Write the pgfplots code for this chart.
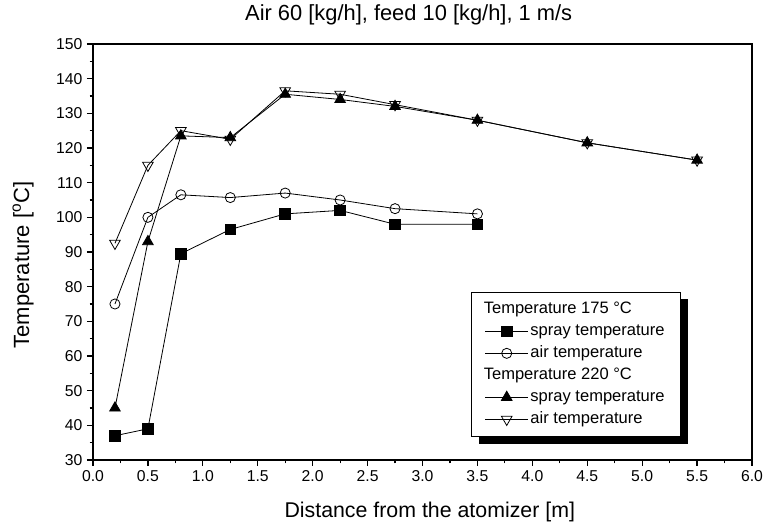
\documentclass[border=0pt]{standalone}
\usepackage{pgfplots}
\pgfplotsset{compat=1.18}
\usepackage{fontspec}
\setmainfont{Liberation Sans}
\usetikzlibrary{backgrounds}
\begin{document}
\begin{tikzpicture}
\useasboundingbox (-69.75pt,-51pt) rectangle (503.25pt,345pt);
\begin{axis}[
  scale only axis,
  width=494.25pt, height=312pt,
  xmin=0, xmax=6, ymin=30, ymax=150,
  xtick={0,0.5,...,6}, ytick={30,40,...,150},
  minor x tick num=1, minor y tick num=1,
  xticklabel style={/pgf/number format/.cd,fixed,fixed zerofill,precision=1},
  /pgf/number format/assume math mode=true,
  tick align=outside, xtick pos=bottom, ytick pos=left,
  major tick length=4.5pt, minor tick length=2.5pt,
  tick style={black, line width=0.9pt},
  axis line style={line width=1.2pt},
  ticklabel style={font=\fontsize{11.8}{13}\selectfont},
  title={Air 60 [kg/h], feed 10 [kg/h], 1 m/s},
  title style={font=\fontsize{16.4}{18}\selectfont, at={(axis description cs:0.479,1.0697)}, anchor=center, yshift=-6pt},
  xlabel={Distance from the atomizer [m]},
  xlabel style={font=\fontsize{16}{18}\selectfont, at={(axis description cs:0.511,-0.125)}, anchor=center},
  ylabel={Temperature [\textsuperscript{o}C]},
  ylabel style={font=\fontsize{16.5}{18}\selectfont, at={(axis description cs:-0.106,0.469)}, anchor=center},
  every axis plot/.append style={black, line width=0.6pt},
  legend image code/.code={\draw[mark repeat=2,mark phase=2] plot coordinates {(0cm,0cm) (16pt,0cm) (32pt,0cm)};},
  legend cell align=left,
  legend style={name=leg, at={(0.574,0.404)}, anchor=north west, draw=black, line width=0.6pt, fill=white,
    font=\fontsize{12.4}{14}\selectfont, row sep=4.5pt, inner xsep=10pt, inner ysep=6.75pt,
    nodes={inner xsep=1.5pt, inner ysep=0pt, text height=9pt, text depth=3pt}},
]
\addlegendimage{empty legend}
\addlegendentry{\hspace*{-35pt}Temperature 175 °C}
\addplot[mark=square*, mark size=4pt, mark options={solid,fill=black}] coordinates {
 (0.2,37) (0.5,39) (0.8,89.5) (1.25,96.5) (1.75,101) (2.25,102) (2.75,98) (3.5,98)};
\addlegendentry{spray temperature}
\addplot[mark=o, mark size=3.8pt, mark options={solid,fill=white}] coordinates {
 (0.2,75) (0.5,100) (0.8,106.5) (1.25,105.7) (1.75,107) (2.25,105) (2.75,102.5) (3.5,101)};
\addlegendentry{air temperature}
\addlegendimage{empty legend}
\addlegendentry{\hspace*{-35pt}Temperature 220 °C}
\addplot[mark=triangle*, mark size=4.6pt, mark options={solid,fill=black}] coordinates {
 (0.2,45) (0.5,93) (0.8,123.5) (1.25,123) (1.75,135.5) (2.25,134) (2.75,132) (3.5,128) (4.5,121.5) (5.5,116.5)};
\addlegendentry{spray temperature}
\addplot[mark=triangle, mark size=4.6pt, mark options={solid,fill=white,rotate=180}] coordinates {
 (0.2,92.5) (0.5,115) (0.8,125) (1.25,122.5) (1.75,136.5) (2.25,135.5) (2.75,132.5) (3.5,128) (4.5,121.5) (5.5,116.5)};
\addlegendentry{air temperature}
\end{axis}
\begin{scope}[on background layer]
\fill[black] ([xshift=5.5pt,yshift=-5.5pt]leg.south west) rectangle ([xshift=5.5pt,yshift=-5.5pt]leg.north east);
\end{scope}
\end{tikzpicture}
\end{document}
